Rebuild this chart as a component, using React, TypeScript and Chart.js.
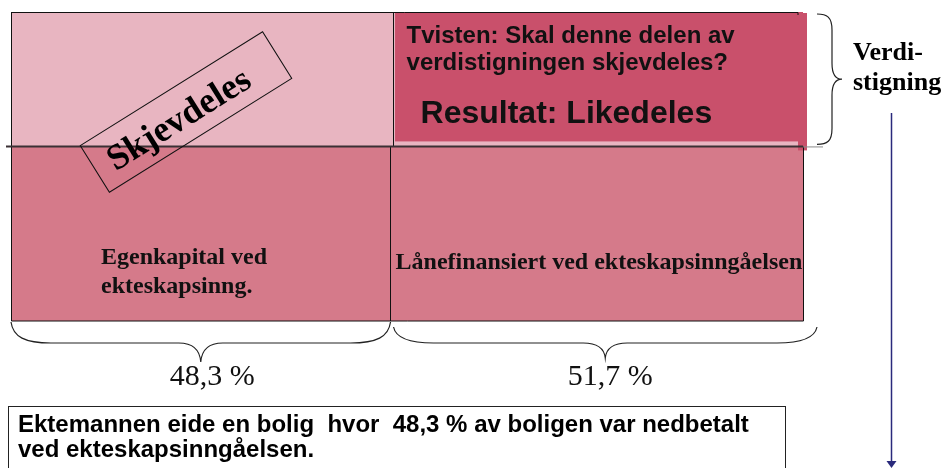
import React, { useEffect, useRef } from 'react';
import { Chart, registerables } from 'chart.js';

Chart.register(...registerables);

// ---- data ----
const shareValues = [48.3, 51.7]; // % egenkapital / % lånefinansiert ved ekteskapsinngåelsen
const shareLabels = ['48,3 %', '51,7 %'];
const baseValue = 100; // boligens verdi ved ekteskapsinngåelsen (indeks)
const riseValue = 77; // verdistigning (indeks)
const cellLabels = ['Egenkapital ved', 'ekteskapsinng.'];
const loanLabel = 'Lånefinansiert ved ekteskapsinngåelsen';
const disputeLines = ['Tvisten: Skal denne delen av', 'verdistigningen skjevdeles?'];
const resultLabel = 'Resultat: Likedeles';
const skewLabel = 'Skjevdeles';
const riseLabels = ['Verdi-', 'stigning'];
const noteLines = ['Ektemannen eide en bolig  hvor  48,3 % av boligen var nedbetalt', 'ved ekteskapsinngåelsen.'];

const C_LIGHT = '#E8B5C1';
const C_DARK = '#C9506B';
const C_BASE = '#D57A8A';

const SERIF = '"Liberation Serif", "Times New Roman", serif';
const SANS = '"Liberation Sans", Arial, sans-serif';

function hBrace(ctx: CanvasRenderingContext2D, xa: number, xb: number, yTop: number, yLine: number, yTip: number) {
  const mid = (xa + xb) / 2;
  ctx.beginPath();
  ctx.moveTo(xa, yTop);
  ctx.bezierCurveTo(xa + 2, yLine - 6, xa + 14, yLine, xa + 40, yLine);
  ctx.lineTo(mid - 22, yLine);
  ctx.bezierCurveTo(mid - 8, yLine, mid - 1, yLine + 6, mid, yTip);
  ctx.bezierCurveTo(mid + 1, yLine + 6, mid + 8, yLine, mid + 22, yLine);
  ctx.lineTo(xb - 40, yLine);
  ctx.bezierCurveTo(xb - 14, yLine, xb - 2, yLine - 6, xb, yTop);
  ctx.stroke();
}

function vBrace(ctx: CanvasRenderingContext2D, ya: number, yb: number, xStart: number, xLine: number, xTip: number) {
  const mid = (ya + yb) / 2;
  ctx.beginPath();
  ctx.moveTo(xStart, ya);
  ctx.bezierCurveTo(xStart + 10, ya, xLine, ya + 3, xLine, ya + 16);
  ctx.lineTo(xLine, mid - 16);
  ctx.bezierCurveTo(xLine, mid - 4, xLine + 4, mid, xTip, mid);
  ctx.bezierCurveTo(xLine + 4, mid, xLine, mid + 4, xLine, mid + 16);
  ctx.lineTo(xLine, yb - 16);
  ctx.bezierCurveTo(xLine, yb - 3, xStart + 10, yb, xStart, yb);
  ctx.stroke();
}

const overlay = {
  id: 'overlay',
  afterDatasetsDraw(chart: any) {
    const { ctx } = chart;
    const xS = chart.scales.x;
    const yS = chart.scales.y;
    const x0 = xS.getPixelForValue(0);
    const xs = xS.getPixelForValue(shareValues[0]);
    const x1 = xS.getPixelForValue(shareValues[0] + shareValues[1]);
    const y0 = yS.getPixelForValue(0);
    const ym = yS.getPixelForValue(baseValue);
    const yt = yS.getPixelForValue(baseValue + riseValue);

    ctx.save();
    // hide the fill seam in the bottom row
    ctx.fillStyle = C_BASE;
    ctx.fillRect(xs - 2, ym, 4, y0 - ym);
    // light strip under the disputed box
    ctx.fillStyle = C_LIGHT;
    ctx.fillRect(xs, ym - 5, x1 - xs - 5, 5);
    ctx.fillRect(xs, yt, 1.5, ym - yt);
    // dark box overhang
    ctx.fillStyle = C_DARK;
    ctx.fillRect(x1 - 5, yt + 1, 9, ym - yt + 3);

    // outlines
    ctx.strokeStyle = '#111';
    ctx.lineWidth = 1;
    ctx.beginPath();
    ctx.moveTo(x0, yt + 0.5);
    ctx.lineTo(x1 - 5, yt + 0.5);
    ctx.lineTo(x1 - 5, yt + 3);
    ctx.moveTo(x0 + 0.5, yt);
    ctx.lineTo(x0 + 0.5, y0);
    ctx.lineTo(x1 + 0.5, y0);
    ctx.lineTo(x1 + 0.5, ym);
    ctx.moveTo(Math.round(xs) - 0.5, yt);
    ctx.lineTo(Math.round(xs) - 0.5, ym);
    ctx.moveTo(Math.round(xs) - 3.5, ym);
    ctx.lineTo(Math.round(xs) - 3.5, y0);
    ctx.stroke();

    // baseline between value at marriage and rise
    ctx.strokeStyle = '#3a3034';
    ctx.lineWidth = 2;
    ctx.beginPath();
    ctx.moveTo(x0 - 5, ym);
    ctx.lineTo(x1, ym);
    ctx.stroke();
    ctx.strokeStyle = '#8a8a8a';
    ctx.lineWidth = 1;
    ctx.beginPath();
    ctx.moveTo(x1, ym + 0.5);
    ctx.lineTo(x1 + 20, ym + 0.5);
    ctx.stroke();

    // texts in top-right box
    ctx.fillStyle = '#111';
    ctx.textAlign = 'left';
    ctx.textBaseline = 'alphabetic';
    ctx.font = `bold 24px ${SANS}`;
    ctx.fillText(disputeLines[0], xs + 13, yt + 31);
    ctx.fillText(disputeLines[1], xs + 13, yt + 58);
    ctx.font = `bold 32px ${SANS}`;
    ctx.fillText(resultLabel, xs + 27, yt + 111);

    // bottom row labels
    ctx.font = `bold 24px ${SERIF}`;
    ctx.fillText(cellLabels[0], x0 + 90, ym + 118);
    ctx.fillText(cellLabels[1], x0 + 90, ym + 147);
    ctx.fillText(loanLabel, xs + 2, ym + 123);

    // rotated "Skjevdeles" stamp
    ctx.save();
    ctx.translate(186, 112);
    ctx.rotate((-32 * Math.PI) / 180);
    ctx.strokeStyle = '#111';
    ctx.lineWidth = 1;
    ctx.strokeRect(-107.5, -27.5, 215, 55);
    ctx.font = `bold 36px ${SERIF}`;
    ctx.textAlign = 'center';
    ctx.textBaseline = 'middle';
    ctx.fillStyle = '#000';
    ctx.fillText(skewLabel, -10, 4);
    ctx.restore();

    // right brace + label
    ctx.strokeStyle = '#222';
    ctx.lineWidth = 1.2;
    vBrace(ctx, yt + 2, ym - 2, x1 + 14, x1 + 29, x1 + 39);
    ctx.fillStyle = '#000';
    ctx.font = `bold 26px ${SERIF}`;
    ctx.textAlign = 'left';
    ctx.textBaseline = 'alphabetic';
    ctx.fillText(riseLabels[0], x1 + 50, yt + 48);
    ctx.fillText(riseLabels[1], x1 + 50, yt + 78);

    // bottom braces + share labels
    ctx.strokeStyle = '#222';
    ctx.lineWidth = 1.2;
    hBrace(ctx, x0, xs - 3, y0 + 1, y0 + 22, y0 + 41);
    hBrace(ctx, xs, x1 + 14, y0 + 6, y0 + 22, y0 + 37);
    ctx.font = `30px ${SERIF}`;
    ctx.textAlign = 'center';
    ctx.fillStyle = '#111';
    ctx.fillText(shareLabels[0], (x0 + xs) / 2 + 10, y0 + 64);
    ctx.fillText(shareLabels[1], (xs + x1 + 14) / 2 + 5, y0 + 64);

    // note box
    ctx.strokeStyle = '#222';
    ctx.lineWidth = 1;
    ctx.strokeRect(8.5, 406.5, 777, 80);
    ctx.font = `bold 24px ${SANS}`;
    ctx.textAlign = 'left';
    ctx.fillStyle = '#000';
    ctx.fillText(noteLines[0], 18, 432);
    ctx.fillText(noteLines[1], 18, 457);

    // arrow
    ctx.strokeStyle = '#2a2a7c';
    ctx.fillStyle = '#2a2a7c';
    ctx.lineWidth = 1.5;
    ctx.beginPath();
    ctx.moveTo(891.5, 113);
    ctx.lineTo(891.5, 462);
    ctx.stroke();
    ctx.beginPath();
    ctx.moveTo(886.5, 461);
    ctx.lineTo(896.5, 461);
    ctx.lineTo(891.5, 468);
    ctx.closePath();
    ctx.fill();
    ctx.restore();
  },
};

export default function App() {
  const ref = useRef<HTMLCanvasElement | null>(null);
  useEffect(() => {
    if (!ref.current) return;
    const total = shareValues[0] + shareValues[1];
    const top = baseValue + riseValue;
    const rect = (xa: number, xb: number, yv: number, fillTo: any, color: string, label: string) => ({
      label,
      data: [
        { x: xa, y: yv },
        { x: xb, y: yv },
      ],
      showLine: true,
      pointRadius: 0,
      borderWidth: 0,
      borderColor: 'rgba(0,0,0,0)',
      backgroundColor: color,
      fill: fillTo,
    });
    const chart = new Chart(ref.current, {
      type: 'scatter',
      data: {
        datasets: [
          rect(0, shareValues[0], baseValue, 'origin', C_BASE, 'Egenkapital'),
          rect(shareValues[0], total, baseValue, 'origin', C_BASE, 'Lånefinansiert'),
          rect(0, shareValues[0], top, { value: baseValue }, C_LIGHT, 'Skjevdeles'),
          rect(shareValues[0], total, top, { value: baseValue }, C_DARK, 'Tvist'),
        ] as any,
      },
      options: {
        animation: false,
        responsive: true,
        maintainAspectRatio: false,
        layout: { padding: { left: 11, right: 144, top: 12, bottom: 147 } },
        scales: {
          x: { type: 'linear', display: false, min: 0, max: total },
          y: { type: 'linear', display: false, min: 0, max: top },
        },
        plugins: { legend: { display: false }, tooltip: { enabled: false } },
        events: [],
      },
      plugins: [overlay],
    });
    return () => chart.destroy();
  }, []);
  return (
    <div style={{ position: 'fixed', left: 0, top: 0, width: 947, height: 468, background: '#fff' }}>
      <canvas ref={ref} />
    </div>
  );
}
